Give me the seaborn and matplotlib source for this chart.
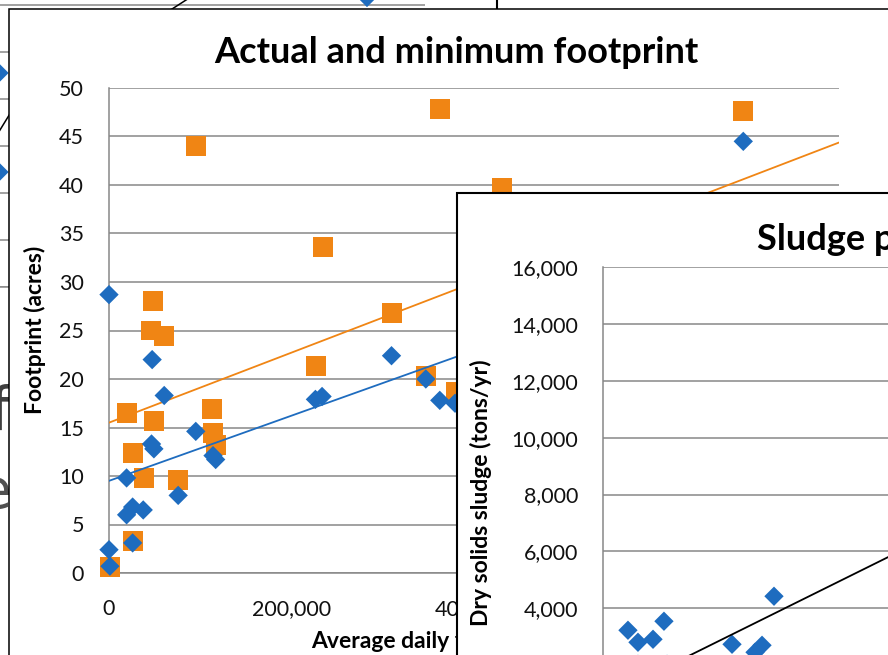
import matplotlib
matplotlib.use("Agg")
import matplotlib.pyplot as plt
import seaborn as sns
import pandas as pd
import numpy as np
from matplotlib.patches import Rectangle

# ---------------- data ----------------
# Footprint chart: acres vs average daily flow (gal/day)
actual_flow = [1000, 19300, 25900, 26600, 38300, 45500, 47700, 49200, 60800,
               75800, 95800, 113300, 114000, 116900, 227000, 234200, 309600,
               347200, 362800, 380000, 430200, 695100]
actual_acres = [0.65, 16.5, 3.3, 12.4, 9.8, 25.0, 28.0, 15.7, 24.4,
                9.6, 44.0, 16.9, 14.4, 13.2, 21.3, 33.6, 26.8,
                20.3, 47.8, 18.7, 39.7, 47.6]
minimum_flow = [0, 1000, 0, 19300, 19300, 25900, 25900, 37500, 46600, 49200,
                47300, 60500, 75800, 95100, 114000, 116900, 226200, 233500,
                309600, 347200, 362500, 379200, 695100]
minimum_acres = [28.7, 0.7, 2.4, 9.8, 6.0, 6.8, 3.1, 6.5, 13.3, 12.8,
                 22.0, 18.3, 8.0, 14.6, 12.1, 11.7, 17.9, 18.2,
                 22.4, 20.0, 17.8, 17.5, 44.5]
# linear trend coefficients [slope, intercept]
actual_trend = [3.61e-5, 15.5]
minimum_trend = [3.36e-5, 9.5]
footprint_xticks = [0, 200000, 400000, 600000, 800000]
footprint_xticklabels = ["0", "200,000", "400,000", "600,000", "800,000"]
footprint_yticks = [0, 5, 10, 15, 20, 25, 30, 35, 40, 45, 50]
footprint_yticklabels = ["0", "5", "10", "15", "20", "25", "30", "35", "40", "45", "50"]

# Sludge production chart
sludge_flow = [29200, 40900, 58500, 71300, 150900, 186000, 177800, 200000, 40900, 74900]
sludge_tons = [3226, 2803, 2909, 3543, 2733, 2698, 2452, 4422, 2030, 2030]
sludge_trend = [0.0149, 830]
sludge_yticks = [0, 2000, 4000, 6000, 8000, 10000, 12000, 14000, 16000]
sludge_yticklabels = ["0", "2,000", "4,000", "6,000", "8,000", "10,000",
                      "12,000", "14,000", "16,000"]

# Chart lying underneath
under_flow = [329900, 329900, 736000]
under_acres = [22.77, 12.23, 30.8]
under_trend_a = [6.19e-5, 29.57 - 520800 * 6.19e-5]
under_trend_a_range = [500000, 560000]
under_trend_b = [1.57e-4, 16.70 - 331000 * 1.57e-4]
under_trend_b_range = [300000, 360000]

BLUE = "#1E6CBF"
ORANGE = "#F08514"
GRID = "#878787"
TICK_SIZE = 15.5
LABEL_SIZE = 16.5
TITLE_SIZE = 26

# ---------------- layout helpers ----------------
W, H = 888, 655
sns.set_theme(style="white")
plt.rcParams["font.family"] = ["Lato", "DejaVu Sans"]

fig = plt.figure(figsize=(W / 100, H / 100), dpi=100)
fig.patch.set_facecolor("white")


def box(l, t, r, b):
    return [l / W, 1 - b / H, (r - l) / W, (b - t) / H]


def frame(l, t, r, b, lw, z):
    rect = Rectangle((l / W, 1 - b / H), (r - l) / W, (b - t) / H,
                     transform=fig.transFigure, facecolor="white",
                     edgecolor="black", linewidth=lw, zorder=z)
    fig.add_artist(rect)


def style_axes(ax):
    ax.set_facecolor("none")
    ax.grid(axis="y", color=GRID, linewidth=1.1)
    ax.grid(axis="x", visible=False)
    ax.set_axisbelow(True)
    for side in ("top", "right"):
        ax.spines[side].set_visible(False)
    for side in ("left", "bottom"):
        ax.spines[side].set_color(GRID)
        ax.spines[side].set_linewidth(1.1)
    ax.tick_params(axis="both", direction="out", length=6, width=1.1,
                   color=GRID, labelsize=TICK_SIZE, labelcolor="#111111", pad=12)
    ax.set_xlabel("")
    ax.set_ylabel("")


def trend(ax, coef, xr, color, lw=1.3, z=3):
    xs = np.array(xr, dtype=float)
    ys = coef[0] * xs + coef[1]
    sns.lineplot(x=xs, y=ys, ax=ax, color=color, linewidth=lw,
                 estimator=None, zorder=z)


# ---------------- underlying chart ----------------
frame(-400, -100, 497, 700, 1.5, -3)
ax_u = fig.add_axes(box(-300, -42, 425, 287))
ax_u.set_zorder(-2)
style_axes(ax_u)
ax_u.set_xlim(0, 800000)
ax_u.set_ylim(0, 35)
ax_u.set_yticks(range(0, 36, 5))
ax_u.tick_params(left=False, bottom=False, labelleft=False, labelbottom=False)
ax_u.spines["left"].set_visible(False)
sns.scatterplot(x=under_flow, y=under_acres, ax=ax_u, marker="D", s=97,
                color=BLUE, edgecolor="none", linewidth=0, clip_on=False, zorder=4)
trend(ax_u, under_trend_a, under_trend_a_range, "black", lw=1.1)
trend(ax_u, under_trend_b, under_trend_b_range, "black", lw=1.1)
for ln in ax_u.lines:
    ln.set_clip_on(False)
fig.text(-10 / W, 1 - 430 / H, "f", fontsize=43, color="#404040",
         family="DejaVu Sans", zorder=-1)
fig.text(-22 / W, 1 - 508 / H, "e", fontsize=40, color="#505050",
         family="DejaVu Sans", zorder=-1)

# ---------------- footprint chart ----------------
frame(9, 9, 903, 760, 1.1, 1)
ax = fig.add_axes(box(109, 88, 839, 573))
ax.set_zorder(2)
style_axes(ax)
sns.scatterplot(x=actual_flow, y=actual_acres, ax=ax, marker="s", s=207,
                color=ORANGE, edgecolor="none", linewidth=0, clip_on=False, zorder=3)
sns.scatterplot(x=minimum_flow, y=minimum_acres, ax=ax, marker="D", s=97,
                color=BLUE, edgecolor="none", linewidth=0, clip_on=False, zorder=5)
trend(ax, actual_trend, [0, 800000], ORANGE, z=4)
trend(ax, minimum_trend, [0, 800000], BLUE, z=4)
ax.set_xlim(0, 800000)
ax.set_ylim(0, 50)
ax.set_xticks(footprint_xticks)
ax.set_xticklabels(footprint_xticklabels)
ax.set_yticks(footprint_yticks)
ax.set_yticklabels(footprint_yticklabels)
ax.tick_params(axis="x", pad=13)
ax.tick_params(axis="y", pad=12)

fig.text(456 / W, 1 - 63 / H, "Actual and minimum footprint", ha="center",
         va="baseline", fontsize=TITLE_SIZE, fontweight="bold", color="black", zorder=2)
fig.text(35 / W, 1 - 330 / H, "Footprint (acres)", ha="center", va="center",
         rotation=90, fontsize=LABEL_SIZE, fontweight="bold", color="black", zorder=2)
fig.text(474 / W, 1 - 648 / H, "Average daily flow (gallons/day)", ha="center",
         va="baseline", fontsize=LABEL_SIZE, fontweight="bold", color="black", zorder=2)

# ---------------- sludge chart ----------------
frame(457, 193, 1351, 900, 1.5, 3)
ax_s = fig.add_axes(box(603, 267, 1287, 722))
ax_s.set_zorder(4)
style_axes(ax_s)
sns.scatterplot(x=sludge_flow, y=sludge_tons, ax=ax_s, marker="D", s=97,
                color=BLUE, edgecolor="none", linewidth=0, clip_on=False, zorder=3)
trend(ax_s, sludge_trend, [0, 800000], "black", lw=1.3)
ax_s.set_xlim(0, 800000)
ax_s.set_ylim(0, 16000)
ax_s.set_yticks(sludge_yticks)
ax_s.set_yticklabels(sludge_yticklabels)
ax_s.tick_params(axis="y", length=9, pad=9)
ax_s.tick_params(axis="x", labelbottom=False, bottom=False)

fig.text(904 / W, 1 - 250 / H, "Sludge production", ha="center",
         va="baseline", fontsize=TITLE_SIZE, fontweight="bold", color="black", zorder=4)
fig.text(481 / W, 1 - 493 / H, "Dry solids sludge (tons/yr)", ha="center",
         va="center", rotation=90, fontsize=LABEL_SIZE, fontweight="bold",
         color="black", zorder=4)

fig.savefig("out.png", dpi=100, facecolor="white")
